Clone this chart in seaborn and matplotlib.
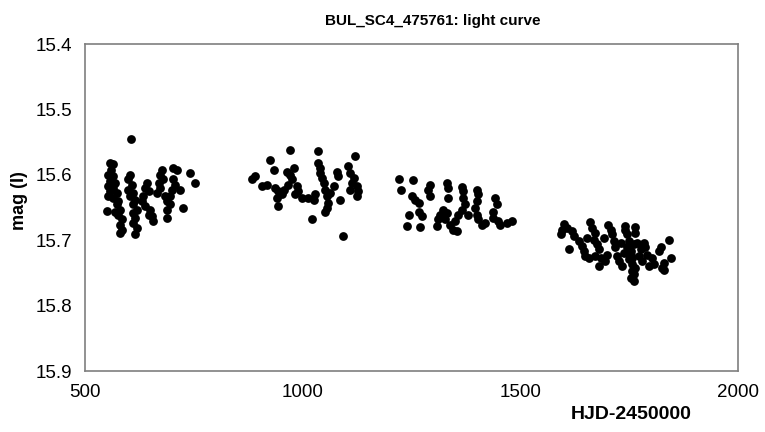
import pandas as pd
import numpy as np
import matplotlib
matplotlib.use("Agg")
import matplotlib.pyplot as plt
import seaborn as sns

# Light curve points, one list pair per observing season
season1_hjd = [557, 565, 561, 554, 565, 557, 569, 554, 565, 557, 573, 554, 565, 577, 550,
               573, 580, 577, 584, 580, 584, 580, 569, 605,
               603, 600, 607, 600, 611, 603, 615, 611, 619, 611, 615, 611, 619, 615,
               642, 638, 646, 634, 630, 638, 649, 646, 653, 657,
               676, 672, 680, 669, 672, 665, 684, 688, 695, 688, 688, 703, 711, 703,
               707, 699, 695, 718, 741, 753, 726]
season1_mag = [15.582, 15.584, 15.592, 15.600, 15.602, 15.610, 15.612, 15.617, 15.620, 15.625,
               15.628, 15.633, 15.635, 15.640, 15.655, 15.645, 15.653, 15.661, 15.668, 15.676,
               15.684, 15.689, 15.656, 15.545,
               15.600, 15.607, 15.615, 15.623, 15.628, 15.633, 15.638, 15.645, 15.653, 15.658,
               15.666, 15.673, 15.681, 15.690,
               15.612, 15.620, 15.625, 15.633, 15.640, 15.648, 15.653, 15.661, 15.663, 15.671,
               15.592, 15.600, 15.607, 15.612, 15.620, 15.628, 15.633, 15.640, 15.645, 15.653,
               15.666, 15.590, 15.592, 15.607, 15.615, 15.623, 15.633, 15.623, 15.597, 15.612,
               15.650]

season2_hjd = [971, 1036, 1121, 925, 933, 1036, 1040, 1040, 1044, 1048, 1052, 1056, 1059, 1056,
               891, 883, 906, 918, 937, 944, 952, 941, 956, 964, 971, 975, 967, 987, 990, 983,
               998, 1013, 1025, 1029, 1021, 944, 1079, 1082, 1071, 1063, 1086, 1105, 1109,
               1117, 1113, 1124, 1128, 1124, 1109, 1093, 1052, 979]
season2_mag = [15.562, 15.564, 15.571, 15.578, 15.592, 15.582, 15.590, 15.597, 15.605, 15.612,
               15.623, 15.633, 15.643, 15.650, 15.602, 15.607, 15.617, 15.615, 15.620, 15.625,
               15.630, 15.635, 15.623, 15.595, 15.600, 15.607, 15.615, 15.617, 15.625, 15.630,
               15.635, 15.635, 15.638, 15.630, 15.668, 15.648, 15.595, 15.602, 15.617, 15.628,
               15.638, 15.587, 15.597, 15.605, 15.612, 15.617, 15.625, 15.633, 15.623, 15.694,
               15.656, 15.590]

season3_hjd = [1220, 1254, 1226, 1250, 1258, 1266, 1243, 1266, 1273, 1239, 1269, 1292, 1288,
               1292, 1331, 1334, 1334, 1323, 1315, 1311, 1308, 1327, 1331, 1338, 1346, 1354,
               1350, 1365, 1369, 1369, 1373, 1365, 1357, 1380, 1400, 1403, 1400, 1396, 1400,
               1403, 1411, 1419, 1442, 1446, 1438, 1438, 1449, 1453, 1468, 1481]
season3_mag = [15.607, 15.608, 15.623, 15.633, 15.638, 15.643, 15.661, 15.656, 15.663, 15.678,
               15.680, 15.615, 15.623, 15.633, 15.612, 15.620, 15.635, 15.653, 15.661, 15.668,
               15.678, 15.668, 15.658, 15.676, 15.684, 15.686, 15.671, 15.618, 15.625, 15.635,
               15.645, 15.653, 15.661, 15.661, 15.623, 15.630, 15.640, 15.651, 15.661, 15.668,
               15.676, 15.673, 15.635, 15.645, 15.656, 15.666, 15.671, 15.676, 15.673, 15.671]

season4_hjd = [1596, 1592, 1607, 1619, 1623, 1634, 1611, 1642, 1646, 1649, 1657, 1665, 1672,
               1669, 1676, 1680, 1672, 1684, 1699, 1695, 1680, 1707, 1711, 1714, 1718, 1722,
               1726, 1734, 1741, 1745, 1749, 1745, 1753, 1757, 1757, 1757, 1753, 1760, 1764,
               1768, 1776, 1772, 1780, 1787, 1791, 1803, 1806, 1795, 1818, 1822, 1829, 1826,
               1841, 1845, 1653, 1691, 1730, 1737, 1749, 1764, 1760, 1783, 1753, 1760, 1829,
               1600, 1660, 1700, 1740, 1763]
season4_mag = [15.684, 15.691, 15.681, 15.686, 15.694, 15.701, 15.714, 15.709, 15.717, 15.724,
               15.727, 15.681, 15.689, 15.699, 15.706, 15.714, 15.724, 15.727, 15.722, 15.732,
               15.739, 15.684, 15.691, 15.701, 15.711, 15.724, 15.732, 15.739, 15.684, 15.691,
               15.701, 15.711, 15.717, 15.727, 15.737, 15.747, 15.757, 15.762, 15.689, 15.704,
               15.714, 15.724, 15.732, 15.711, 15.722, 15.727, 15.737, 15.739, 15.717, 15.711,
               15.734, 15.742, 15.699, 15.727, 15.696, 15.696, 15.704, 15.719, 15.729, 15.742,
               15.706, 15.704, 15.722, 15.752, 15.745, 15.675, 15.672, 15.676, 15.678, 15.680]

x_ticks = [500, 1000, 1500, 2000]
y_ticks = [15.4, 15.5, 15.6, 15.7, 15.8, 15.9]

df = pd.DataFrame({
    "hjd": season1_hjd + season2_hjd + season3_hjd + season4_hjd,
    "mag": season1_mag + season2_mag + season3_mag + season4_mag,
})

sns.set_theme(style="white")
plt.rcParams['font.family'] = ['Liberation Sans', 'DejaVu Sans']
plt.rcParams['text.color'] = 'black'

fig = plt.figure(figsize=(7.65, 4.32), dpi=100)
ax = fig.add_axes([0.111, 0.141, 0.854, 0.757])

sns.scatterplot(data=df, x="hjd", y="mag", color="black", s=40, linewidth=0, ax=ax)

ax.set_xlim(500, 2000)
ax.set_ylim(15.9, 15.4)
ax.set_xticks(x_ticks)
ax.set_yticks(y_ticks)
ax.set_yticklabels([f"{v:.1f}" for v in y_ticks])
ax.tick_params(axis="both", which="major", direction="out", length=6, width=1.2,
               color="#7f7f7f", labelsize=13.5, labelcolor="black")
ax.tick_params(axis="x", pad=3)
ax.tick_params(axis="y", pad=3)
for side in ax.spines.values():
    side.set_color("#7f7f7f")
    side.set_linewidth(1.2)

ax.set_xlabel("")
ax.set_ylabel("")
fig.text(0.566, 0.952, "BUL_SC4_475761: light curve", ha="center", va="center",
         fontsize=11, fontweight="bold", color="black")
fig.text(0.825, 0.040, "HJD-2450000", ha="center", va="center",
         fontsize=14, fontweight="bold", color="black")
fig.text(0.026, 0.535, "mag (I)", ha="center", va="center", rotation=90,
         fontsize=13, fontweight="bold", color="black")

fig.savefig("out.png", dpi=100, facecolor="white")
